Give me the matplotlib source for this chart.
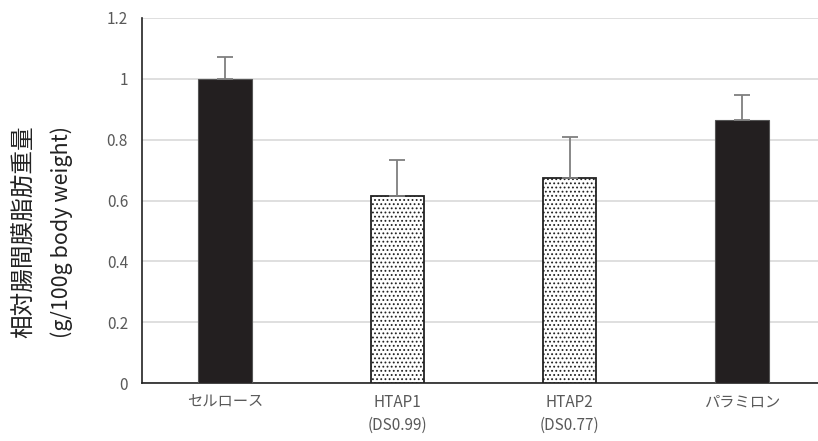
import numpy as np
import matplotlib
matplotlib.use("Agg")
import matplotlib.pyplot as plt

plt.rcParams['font.family'] = ['Noto Sans CJK JP', 'DejaVu Sans']
plt.rcParams['hatch.linewidth'] = 0.8
plt.rcParams['hatch.color'] = '#222222'

# data
categories = ['セルロース', 'HTAP1\n(DS0.99)', 'HTAP2\n(DS0.77)', 'パラミロン']
values = [1.0, 0.615, 0.674, 0.865]
errors = [0.073, 0.117, 0.136, 0.083]
hatched = [False, True, True, False]
yticks = [0, 0.2, 0.4, 0.6, 0.8, 1, 1.2]
ytick_labels = ['0', '0.2', '0.4', '0.6', '0.8', '1', '1.2']

fig = plt.figure(figsize=(8.18, 4.41), dpi=100)
ax = fig.add_axes([142/818, 58/441, 1 - 142/818, 365/441])

x = np.arange(len(categories))
for xi, v, e, h in zip(x, values, errors, hatched):
    if h:
        ax.bar(xi, v, width=0.31, color='white', edgecolor='#222222',
               linewidth=1.3, hatch='....', zorder=3)
    else:
        ax.bar(xi, v, width=0.31, color='#231f20', edgecolor='#555555',
               linewidth=0.8, zorder=3)
    ax.errorbar(xi, v, yerr=[[0], [e]], fmt='none', ecolor='#7f7f7f',
                elinewidth=1.3, capsize=6, capthick=1.3, zorder=4)

ax.set_xlim(-(225 - 142) / 172.3, (818 - 225) / 172.3)
ax.set_ylim(0, 1.2)
ax.set_yticks(yticks)
ax.set_yticklabels(ytick_labels)
ax.set_xticks(x)
ax.set_xticklabels(categories)
ax.tick_params(axis='y', length=0, colors='#595959', labelsize=11, pad=10)
ax.tick_params(axis='x', length=0, colors='#595959', labelsize=11, pad=8)
for lbl in ax.get_xticklabels():
    lbl.set_linespacing(1.45)

ax.grid(axis='y', color='#d9d9d9', linewidth=1.2, zorder=0)
ax.set_axisbelow(True)
for s in ['top', 'right']:
    ax.spines[s].set_visible(False)
ax.spines['left'].set_color('#222222')
ax.spines['bottom'].set_color('#222222')
ax.spines['left'].set_linewidth(1.2)
ax.spines['bottom'].set_linewidth(1.2)

fig.text(25/818, 1 - 232/441, '相対腸間膜脂肪重量', rotation=90, fontsize=17,
         ha='center', va='center', color='#222222')
fig.text(62/818, 1 - 232/441, '(g/100g body weight)', rotation=90, fontsize=15.5,
         ha='center', va='center', color='#222222')

fig.savefig('out.png', dpi=100)
